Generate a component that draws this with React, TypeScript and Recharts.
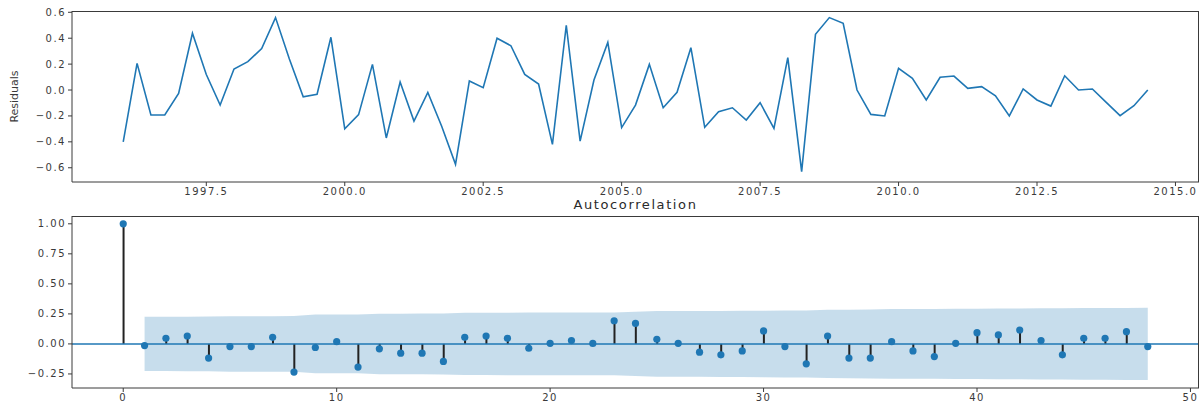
import React from 'react';
import {
  LineChart,
  Line,
  ComposedChart,
  Area,
  Bar,
  Scatter,
  XAxis,
  YAxis,
  ReferenceLine,
} from 'recharts';

// residuals, quarterly from 1996.0
const residuals = [
  -0.4, 0.206, -0.193, -0.193, -0.026, 0.438, 0.12, -0.116, 0.162, 0.219, 0.32, 0.559,
  0.24, -0.052, -0.033, 0.407, -0.3, -0.19, 0.198, -0.37, 0.062, -0.24, -0.018, -0.28,
  -0.574, 0.07, 0.018, 0.4, 0.342, 0.121, 0.046, -0.42, 0.5, -0.394, 0.077, 0.368,
  -0.29, -0.116, 0.198, -0.137, -0.018, 0.327, -0.288, -0.167, -0.137, -0.232, -0.098, -0.296,
  0.25, -0.63, 0.43, 0.559, 0.515, 0.0, -0.188, -0.2, 0.167, 0.09, -0.077, 0.098,
  0.108, 0.013, 0.026, -0.044, -0.2, 0.008, -0.077, -0.124, 0.11, 0.0, 0.008, -0.095,
  -0.198, -0.121, 0.0,
];
const START_YEAR = 1996;
const yearTicks = [1997.5, 2000, 2002.5, 2005, 2007.5, 2010, 2012.5, 2015];
const residTicks = [-0.6, -0.4, -0.2, 0, 0.2, 0.4, 0.6];

// autocorrelation, lags 0..48
const acfValues = [
  1.0, -0.014, 0.047, 0.066, -0.118, -0.022, -0.022, 0.055, -0.234, -0.03, 0.019, -0.193,
  -0.041, -0.077, -0.077, -0.146, 0.055, 0.066, 0.047, -0.036, 0.005, 0.028, 0.004, 0.193,
  0.171, 0.039, 0.005, -0.069, -0.091, -0.058, 0.108, -0.022, -0.166, 0.066, -0.118, -0.118,
  0.019, -0.058, -0.105, 0.005, 0.094, 0.075, 0.116, 0.028, -0.091, 0.047, 0.047, 0.102,
  -0.022,
];
// half width of the confidence band, lags 1..48
const bandWidth = [
  0.226, 0.226, 0.227, 0.228, 0.231, 0.231, 0.231, 0.232, 0.244, 0.244, 0.244, 0.252,
  0.252, 0.253, 0.254, 0.259, 0.259, 0.26, 0.261, 0.261, 0.261, 0.261, 0.261, 0.268,
  0.274, 0.274, 0.274, 0.275, 0.276, 0.277, 0.279, 0.279, 0.284, 0.285, 0.287, 0.29,
  0.29, 0.291, 0.292, 0.292, 0.294, 0.295, 0.297, 0.297, 0.299, 0.299, 0.3, 0.301,
];
const lagTicks = [0, 10, 20, 30, 40, 50];
const acfTicks = [-0.25, 0, 0.25, 0.5, 0.75, 1.0];

const YEAR_DOMAIN = [1995.075, 2015.425];
const RESID_DOMAIN = [-0.71, 0.61];
const LAG_DOMAIN = [-2.4, 50.4];
const ACF_DOMAIN = [-0.367, 1.065];

const BLUE = '#1f77b4';
const SPINE = '#3a3a3a';
const FONT = 'DejaVu Sans, sans-serif';
// the original is stretched sideways, so widen the text a bit
const tickStyle = { fontSize: 10, fill: '#3a3a3a', fontFamily: FONT, letterSpacing: 1.5 };

const residData = residuals.map((v, i) => ({ t: START_YEAR + i * 0.25, v }));
const acfData = acfValues.map((v, i) => ({
  lag: i,
  acf: v,
  band: i === 0 ? null : [-bandWidth[i - 1], bandWidth[i - 1]],
}));

const minus = (v: number, digits: number) =>
  v < 0 ? '\u2212' + Math.abs(v).toFixed(digits) : v.toFixed(digits);

const MarkerDot = (props: any) => {
  const { cx, cy } = props;
  if (cx == null || cy == null) return null;
  return <circle cx={cx} cy={cy} r={3.6} fill={BLUE} />;
};

// top/right frame lines over a plot area (matplotlib draws a full box)
const Frame = ({ left, top, width, height }: { left: number; top: number; width: number; height: number }) => (
  <div
    style={{
      position: 'absolute',
      left,
      top,
      width,
      height,
      boxSizing: 'border-box',
      borderTop: `1px solid ${SPINE}`,
      borderRight: `1px solid ${SPINE}`,
      pointerEvents: 'none',
    }}
  />
);

export default function App() {
  return (
    <div style={{ position: 'absolute', left: 0, top: 0, width: 1201, height: 407, background: '#fff', fontFamily: FONT }}>
      <div style={{ position: 'absolute', left: 0, top: 0 }}>
        <LineChart width={1201} height={205} data={residData} margin={{ top: 11, right: 2, left: 0, bottom: 0 }}>
          <XAxis
            dataKey="t"
            type="number"
            domain={YEAR_DOMAIN}
            ticks={yearTicks}
            interval={0}
            tickFormatter={(v: number) => v.toFixed(1)}
            tick={tickStyle}
            tickSize={4}
            height={23}
            stroke={SPINE}
          />
          <YAxis
            type="number"
            domain={RESID_DOMAIN}
            ticks={residTicks}
            interval={0}
            tickFormatter={(v: number) => minus(v, 1)}
            tick={tickStyle}
            tickSize={4}
            width={72}
            stroke={SPINE}
            label={{ value: 'Residuals', angle: -90, position: 'insideLeft', offset: 14, style: { fontSize: 11, fill: '#3a3a3a', fontFamily: FONT, textAnchor: 'middle' } }}
          />
          <Line dataKey="v" type="linear" stroke={BLUE} strokeWidth={1.6} dot={false} isAnimationActive={false} />
        </LineChart>
      </div>
      <Frame left={72} top={11} width={1127} height={171} />
      <div style={{ position: 'absolute', left: 0, top: 196 }}>
        <ComposedChart width={1201} height={211} data={acfData} margin={{ top: 20, right: 2, left: 0, bottom: 0 }}>
          <XAxis
            dataKey="lag"
            type="number"
            domain={LAG_DOMAIN}
            ticks={lagTicks}
            interval={0}
            tick={tickStyle}
            tickSize={4}
            height={19}
            stroke={SPINE}
          />
          <YAxis
            type="number"
            domain={ACF_DOMAIN}
            ticks={acfTicks}
            interval={0}
            tickFormatter={(v: number) => minus(v, 2)}
            tick={tickStyle}
            tickSize={4}
            width={72}
            stroke={SPINE}
          />
          <Area dataKey="band" type="linear" stroke="none" fill={BLUE} fillOpacity={0.25} isAnimationActive={false} />
          <Bar dataKey="acf" barSize={2} fill="#222" isAnimationActive={false} />
          <ReferenceLine y={0} stroke={BLUE} strokeWidth={1.5} />
          <Scatter dataKey="acf" shape={MarkerDot} isAnimationActive={false} />
        </ComposedChart>
      </div>
      <Frame left={72} top={216} width={1127} height={172} />
      <div
        style={{
          position: 'absolute',
          left: 72,
          width: 1127,
          top: 197,
          textAlign: 'center',
          fontSize: 13,
          letterSpacing: 1.6,
          color: '#2a2a2a',
          lineHeight: '16px',
          fontFamily: FONT,
        }}
      >
        Autocorrelation
      </div>
    </div>
  );
}
